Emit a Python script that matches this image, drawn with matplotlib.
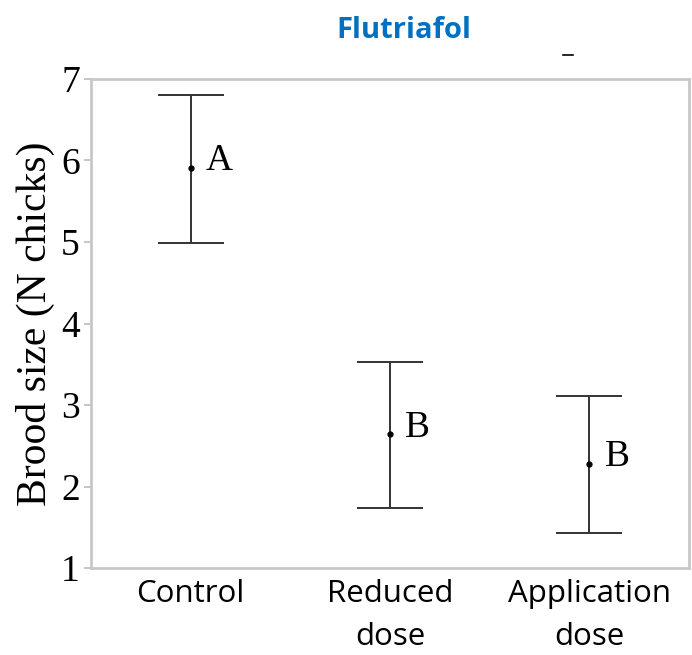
import matplotlib.pyplot as plt
import numpy as np
from matplotlib.lines import Line2D

groups = ["Control", "Reduced\ndose", "Application\ndose"]
means = [5.91, 2.64, 2.28]
upper = [6.80, 3.53, 3.11]
lower = [4.99, 1.74, 1.43]
letters = ["A", "B", "B"]
yticks = [1, 2, 3, 4, 5, 6, 7]

x = np.arange(len(groups))
means = np.array(means)
yerr = [means - np.array(lower), np.array(upper) - means]

fig = plt.figure(figsize=(6.92, 6.55), dpi=100)
ax = fig.add_axes([0.1315, 0.1328, 0.864, 0.7466])

ax.errorbar(x, means, yerr=yerr, fmt="o", color="black", ecolor="#333333",
            elinewidth=1.4, capsize=24, capthick=1.4, markersize=3.5)

for xi, m, lab in zip(x, means, letters):
    ax.annotate(lab, (xi, m), xytext=(11, 5), textcoords="offset points",
                va="center", ha="left", fontsize=27, family="Liberation Serif")

ax.set_xlim(-0.5, 2.5)
ax.set_ylim(1, 7)
ax.set_yticks(yticks)
ax.set_yticklabels([str(t) for t in yticks], family="Liberation Serif", fontsize=27)
ax.set_xticks(x)
ax.set_xticklabels(groups, family="Open Sans", fontsize=22.5, linespacing=1.55)
ax.tick_params(axis="x", length=0, pad=8)
ax.tick_params(axis="y", length=5, color="#bbbbbb", width=1.2, pad=3)

for s in ax.spines.values():
    s.set_color("#c8c8c8")
    s.set_linewidth(2)

ax.set_ylabel("Brood size (N chicks)", family="Liberation Serif", fontsize=30, labelpad=4)

fig.text(0.584, 0.953, "Flutriafol", color="#0070C0", fontsize=21,
         fontweight="bold", family="Open Sans", ha="center", va="center")
fig.add_artist(Line2D([0.813, 0.828], [0.916, 0.916], color="black", lw=1.2,
                      transform=fig.transFigure))

fig.savefig("out.png", dpi=100)
